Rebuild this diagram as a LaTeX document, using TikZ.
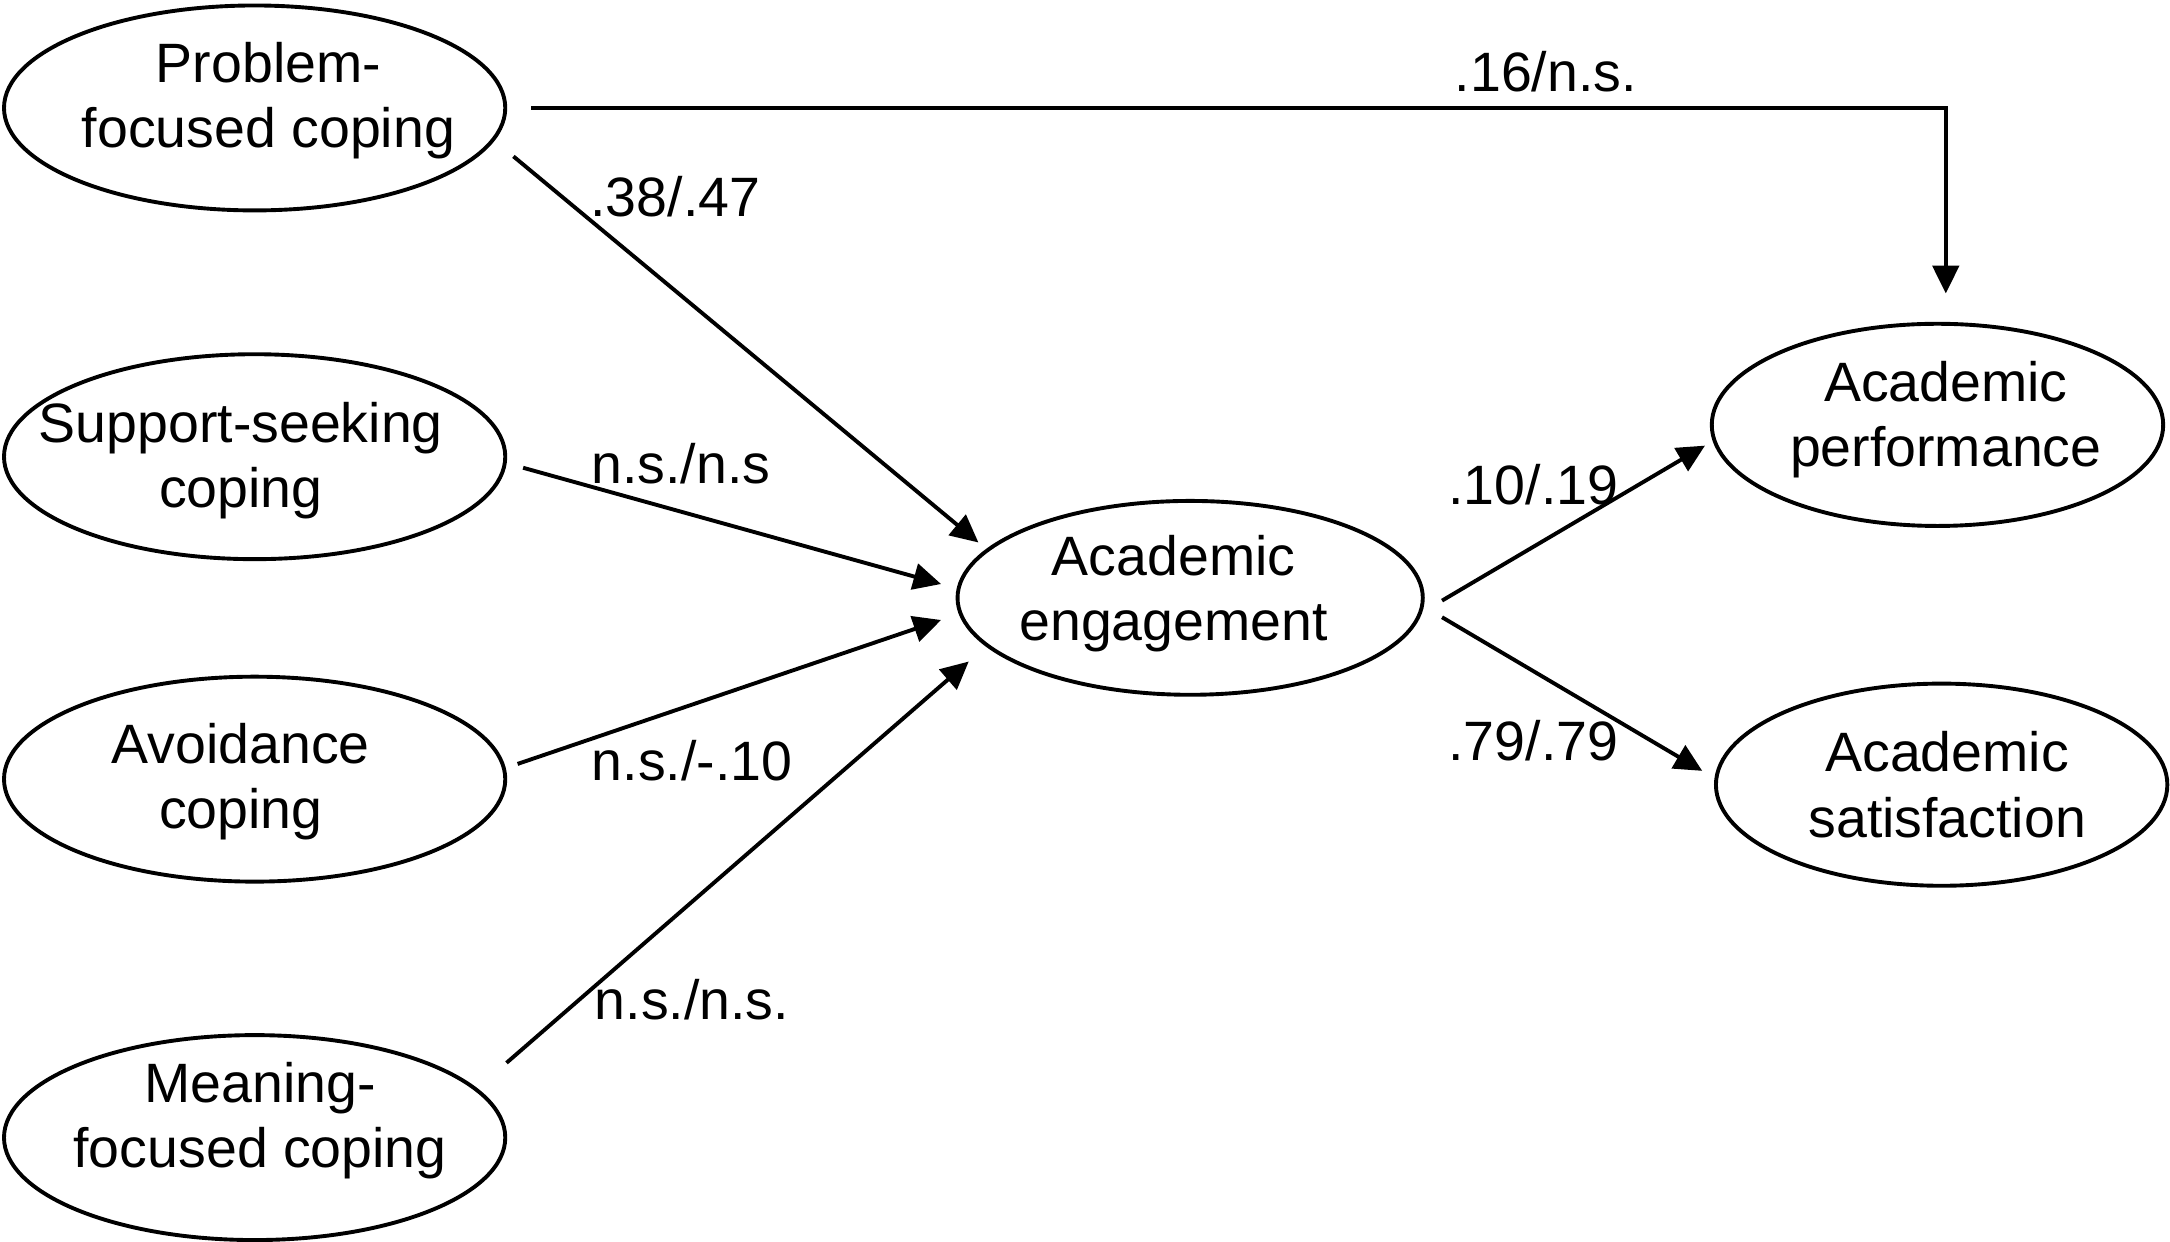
\documentclass[tikz,border=0pt]{standalone}
\usepackage{fontspec}
\setmainfont{Liberation Sans}
\usetikzlibrary{shapes.geometric,arrows.meta}
\begin{document}
\begin{tikzpicture}[x=0.01cm,y=-0.01cm,
  every node/.style={font=\fontsize{11.4}{13.4}\selectfont},
  var/.style={draw,ellipse,line width=0.8pt,inner sep=0pt},
  lft/.style={var,minimum width=3.62cm,minimum height=1.48cm},
  rgt/.style={var,minimum width=3.26cm,minimum height=1.46cm},
  mid/.style={var,minimum width=3.36cm,minimum height=1.40cm},
  txt/.style={inner sep=0pt,align=center},
  path/.style={line width=0.8pt,-{Triangle[length=0.2cm,width=0.19cm]}},
  lbl/.style={inner sep=0pt}]
\useasboundingbox (0,0) rectangle (1568,897);
\node[lft] (prob) at (184,78) {};
\node[lft] (supp) at (184,330) {};
\node[lft] (avoid) at (184,563) {};
\node[lft] (mean) at (184,822) {};
\node[mid] (eng) at (860,432) {};
\node[rgt] (perf) at (1400,307) {};
\node[rgt] (sat) at (1403,567) {};
\node[txt] (probt) at (194,73) {Problem-\\focused coping};
\node[txt] (suppt) at (174,333) {Support-seeking\\coping};
\node[txt] (avoidt) at (174,565) {Avoidance\\coping};
\node[txt] (meant) at (188,810) {Meaning-\\focused coping};
\node[txt] (engt) at (848,429) {Academic\\engagement};
\node[txt] (perft) at (1406,303) {Academic\\performance};
\node[txt] (satt) at (1407,567) {Academic\\satisfaction};
% connector end points
\coordinate (t0) at (384,78);
\coordinate (t1) at (1406,78);
\coordinate (t2) at (1406,212);
\coordinate (a0) at (371,113);
\coordinate (a1) at (707,392);
\coordinate (b0) at (378,338);
\coordinate (b1) at (680,422);
\coordinate (c0) at (374,552);
\coordinate (c1) at (680,448);
\coordinate (d0) at (366,768);
\coordinate (d1) at (700,478);
\coordinate (e0) at (1042,434);
\coordinate (e1) at (1232,322);
\coordinate (f0) at (1042,446);
\coordinate (f1) at (1230,557);
\draw[path] (t0) -- (t1) -- (t2);
\draw[path] (a0) -- (a1);
\draw[path] (b0) -- (b1);
\draw[path] (c0) -- (c1);
\draw[path] (d0) -- (d1);
\draw[path] (e0) -- (e1);
\draw[path] (f0) -- (f1);
\node[lbl] (l1) at (1117,52) {.16/n.s.};
\node[lbl] (l2) at (488,142) {.38/.47};
\node[lbl] (l3) at (492,335) {n.s./n.s};
\node[lbl] (l4) at (500,550) {n.s./-.10};
\node[lbl] (l5) at (500,722) {n.s./n.s.};
\node[lbl] (l6) at (1108,350) {.10/.19};
\node[lbl] (l7) at (1108,535) {.79/.79};
\end{tikzpicture}
\end{document}
